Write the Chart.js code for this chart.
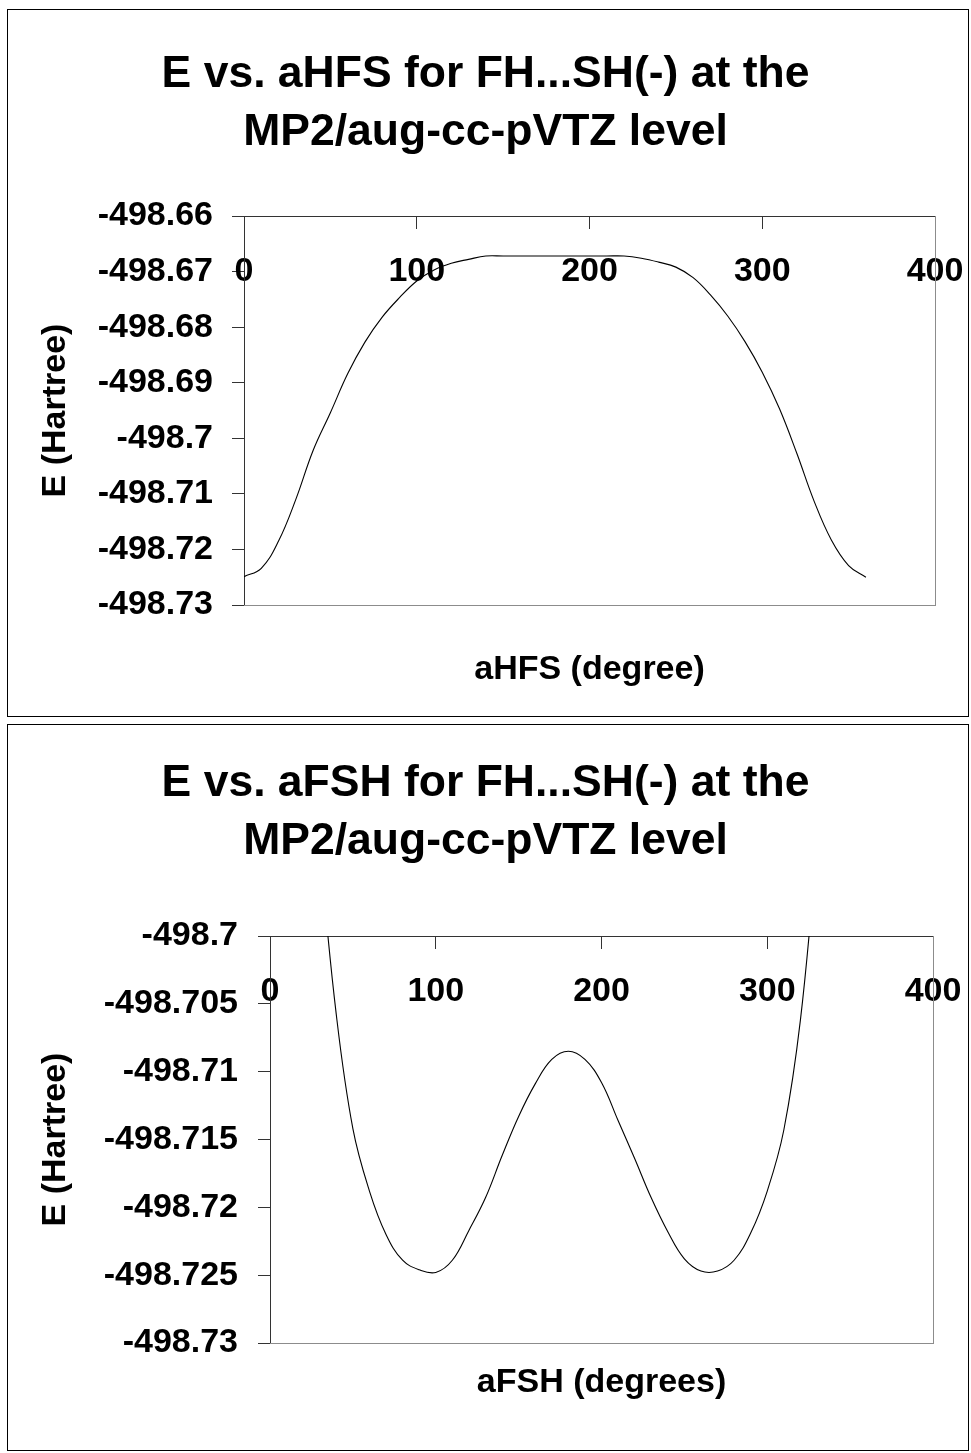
<!DOCTYPE html>
<html>
<head>
<meta charset="utf-8">
<title>Torsional energy scans of FH...SH(-)</title>
<script src="https://cdn.jsdelivr.net/npm/chart.js@4.4.1/dist/chart.umd.min.js"></script>
<style>
  html, body { margin: 0; padding: 0; background: #fff; }
  body { position: relative; width: 971px; height: 1453px; overflow: hidden; }
  .frame { position: absolute; border: 1px solid #000; box-sizing: border-box; }
  canvas { position: absolute; left: 0; }
</style>
</head>
<body>
<div class="frame" style="left:7px; top:9px; width:962px; height:708px;"></div>
<div class="frame" style="left:7px; top:724px; width:962px; height:727px;"></div>
<canvas id="scanHFS" width="971" height="720" style="top:0;"></canvas>
<canvas id="scanFSH" width="971" height="733" style="top:720px;"></canvas>
<script>
// Scan 1: energy vs. the H-F...S angle (degrees), MP2/aug-cc-pVTZ, Hartree
const titleHFS = ['E vs. aHFS for FH...SH(-) at the', 'MP2/aug-cc-pVTZ level'];
const xTitleHFS = 'aHFS (degree)';
const angleHFS = [0, 10, 20, 30, 40, 50, 60, 70, 80, 90, 100, 110, 120, 130, 140, 150, 160, 170, 180,
                  190, 200, 210, 220, 230, 240, 250, 260, 270, 280, 290, 300, 310, 320, 330, 340, 350, 360];
const energyHFS = [-498.7249, -498.7234, -498.7185, -498.7110, -498.7022, -498.6954, -498.6884, -498.6827,
                   -498.6782, -498.6747, -498.6717, -498.6697, -498.6685, -498.6678, -498.6672, -498.6672,
                   -498.6672, -498.6672, -498.6672, -498.6672, -498.6672, -498.6672, -498.6672, -498.6676,
                   -498.6683, -498.6692, -498.6711, -498.6742, -498.6780, -498.6826, -498.6881, -498.6947,
                   -498.7027, -498.7113, -498.7183, -498.7229, -498.7250];
const yTicksHFS = [-498.73, -498.72, -498.71, -498.70, -498.69, -498.68, -498.67, -498.66];

// Scan 2: energy vs. the F...S-H angle (degrees)
const titleFSH = ['E vs. aFSH for FH...SH(-) at the', 'MP2/aug-cc-pVTZ level'];
const xTitleFSH = 'aFSH (degrees)';
const angleFSH = [30, 40, 50, 60, 70, 80, 90, 100, 110, 120, 130, 140, 150, 160, 170, 180,
                  190, 200, 210, 220, 230, 240, 250, 260, 270, 280, 290, 300, 310, 320, 330];
const energyFSH = [-498.6937, -498.7058, -498.7142, -498.7188, -498.7220, -498.7239, -498.7246, -498.7248,
                   -498.7239, -498.7217, -498.7193, -498.7162, -498.7133, -498.7109, -498.7091, -498.7085,
                   -498.7091, -498.7108, -498.7136, -498.7164, -498.7193, -498.7218, -498.7238, -498.7247,
                   -498.7247, -498.7239, -498.7219, -498.7188, -498.7143, -498.7062, -498.6935];
const yTicksFSH = [-498.73, -498.725, -498.72, -498.715, -498.71, -498.705, -498.70];

const xTicks = [0, 100, 200, 300, 400];
const yAxisTitle = 'E (Hartree)';

const FAMILY = "'Liberation Sans', Arial, Helvetica, sans-serif";
const AXIS_DARK = '#333333';
const FRAME_GREY = '#8c8c8c';

function axisFont(size, lineHeight) {
  return { family: FAMILY, size: size, weight: 'bold', lineHeight: lineHeight || 1 };
}

function scanChart(canvasId, p) {
  const points = p.xs.map((x, i) => ({ x: x, y: p.ys[i] }));
  const yMin = Math.min.apply(null, p.yTicks);
  const yMax = Math.max.apply(null, p.yTicks);
  return new Chart(document.getElementById(canvasId), {
    type: 'line',
    data: {
      datasets: [{
        data: points,
        xAxisID: 'x',
        yAxisID: 'y',
        borderColor: '#000',
        borderWidth: 1.1,
        pointRadius: 0,
        fill: false,
        tension: 0.4
      }]
    },
    options: {
      responsive: false,
      animation: false,
      devicePixelRatio: 1,
      events: [],
      layout: { padding: 0 },
      plugins: {
        legend: { display: false },
        tooltip: { enabled: false },
        title: {
          display: true,
          text: p.title,
          color: '#000',
          font: { family: FAMILY, size: 44.5, weight: 'bold', lineHeight: '58px' },
          padding: { top: p.titleTop, bottom: p.titleBottom }
        },
        subtitle: {
          display: true,
          position: 'bottom',
          fullSize: false,
          text: p.xTitle,
          color: '#000',
          font: axisFont(34),
          padding: { top: p.xTitleTop, bottom: p.xTitleBottom }
        }
      },
      scales: {
        // angle axis drawn along the top edge; a tall line box drops its labels below the ticks
        x: {
          type: 'linear',
          position: { y: yMax },
          min: 0,
          max: 400,
          afterBuildTicks: s => { s.ticks = xTicks.map(v => ({ value: v })); },
          ticks: {
            callback: v => String(v),
            color: '#000',
            font: axisFont(34, '88px'),
            padding: 0,
            maxRotation: 0,
            autoSkip: false
          },
          grid: { drawOnChartArea: false, drawTicks: true, tickLength: 12, tickColor: AXIS_DARK, lineWidth: 1 },
          border: { display: true, color: AXIS_DARK, width: 1 }
        },
        y: {
          type: 'linear',
          position: 'left',
          min: yMin,
          max: yMax,
          afterBuildTicks: s => { s.ticks = p.yTicks.map(v => ({ value: v })); },
          afterFit: s => { s.width = p.yWidth; },
          ticks: {
            callback: v => String(v),
            color: '#000',
            font: axisFont(34),
            padding: p.yPad
          },
          title: {
            display: true,
            text: yAxisTitle,
            color: '#000',
            font: axisFont(34),
            padding: { top: 39, bottom: 0 }
          },
          grid: { drawOnChartArea: false, drawTicks: true, tickLength: 12, tickColor: AXIS_DARK, lineWidth: 1 },
          border: { display: true, color: AXIS_DARK, width: 1 }
        },
        // plot-area frame on the bottom and right; the right one also keeps the margin
        x2: {
          type: 'linear', axis: 'x', position: 'bottom', display: true,
          afterFit: s => { s.height = 0; },
          ticks: { display: false },
          grid: { display: false, drawTicks: false },
          border: { display: true, color: FRAME_GREY, width: 1 }
        },
        y2: {
          type: 'linear', axis: 'y', position: 'right', display: true,
          afterFit: s => { s.width = p.rightMargin; },
          ticks: { display: false },
          grid: { display: false, drawTicks: false },
          border: { display: true, color: FRAME_GREY, width: 1 }
        }
      }
    }
  });
}

scanChart('scanHFS', {
  title: titleHFS, xTitle: xTitleHFS, xs: angleHFS, ys: energyHFS, yTicks: yTicksHFS,
  rightMargin: 36, yWidth: 244, yPad: 19,
  titleTop: 46, titleBottom: 54, xTitleTop: 48, xTitleBottom: 33
});

scanChart('scanFSH', {
  title: titleFSH, xTitle: xTitleFSH, xs: angleFSH, ys: energyFSH, yTicks: yTicksFSH,
  rightMargin: 38, yWidth: 270, yPad: 20,
  titleTop: 35, titleBottom: 65, xTitleTop: 23, xTitleBottom: 53
});
</script>
</body>
</html>
